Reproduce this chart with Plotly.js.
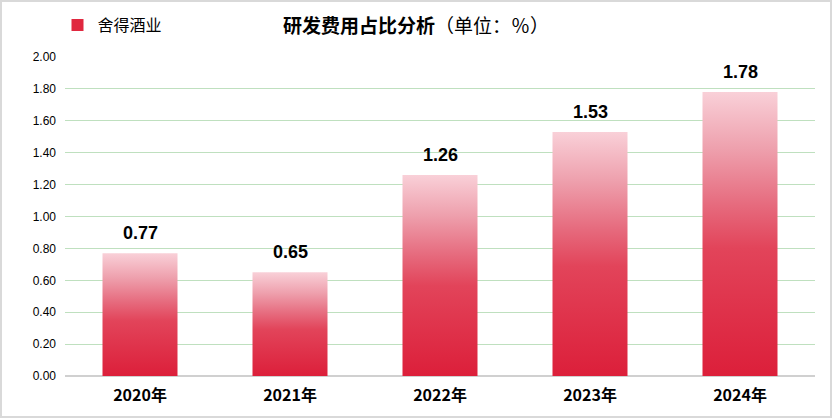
<!DOCTYPE html>
<html>
<head>
<meta charset="utf-8">
<script src="https://cdn.plot.ly/plotly-3.0.1.min.js"></script>
<style>
  html, body { margin: 0; padding: 0; background: #fff; }
  #wrap { position: relative; width: 832px; height: 418px; }
  #chart { position: absolute; left: 0; top: 0; width: 832px; height: 418px; }
  #frame { position: absolute; left: 0; top: 0; width: 832px; height: 418px; box-sizing: border-box; border: 2px solid #d9d9d9; pointer-events: none; }
</style>
</head>
<body>
<div id="wrap"><div id="chart"></div><div id="frame"></div></div>
<script>
const years = ['2020年', '2021年', '2022年', '2023年', '2024年'];
const seriesName = '舍得酒业';
const values = [0.77, 0.65, 1.26, 1.53, 1.78];
const yTicks = [0, 0.2, 0.4, 0.6, 0.8, 1.0, 1.2, 1.4, 1.6, 1.8, 2.0];

const BAR_W = 0.5;
const idx = years.map((_, i) => i);
const gradScale = [[0, '#dc1f3a'], [0.45, '#e2445a'], [0.6, '#e66a7d'], [0.8, '#eea0ad'], [1, '#f9d0d8']];

const traces = [
  {
    type: 'bar',
    name: seriesName,
    x: [null],
    y: [null],
    marker: { color: '#e0283f' },
    showlegend: true,
    hoverinfo: 'skip'
  },
  {
    type: 'bar',
    name: seriesName,
    x: idx,
    y: values,
    width: BAR_W,
    marker: { color: 'rgba(0,0,0,0)', line: { width: 0 } },
    showlegend: false,
    hoverinfo: 'x+y'
  }
];

idx.forEach((i) => {
  const v = values[i];
  traces.push({
    type: 'scatter',
    mode: 'lines',
    x: [i - BAR_W / 2, i + BAR_W / 2, i + BAR_W / 2, i - BAR_W / 2, i - BAR_W / 2],
    y: [0, 0, v, v, 0],
    fill: 'toself',
    fillgradient: { type: 'vertical', colorscale: gradScale },
    line: { width: 0 },
    showlegend: false,
    hoverinfo: 'skip'
  });
});

const annotations = idx.map((i) => ({
  x: i,
  y: values[i],
  xref: 'x',
  yref: 'y',
  text: values[i].toFixed(2),
  showarrow: false,
  yanchor: 'bottom',
  yshift: 8,
  font: { size: 18, color: '#000', family: 'Liberation Sans, sans-serif', weight: 'bold' }
}));

const layout = {
  width: 832,
  height: 418,
  margin: { l: 65, r: 17, t: 57, b: 42, autoexpand: false },
  paper_bgcolor: '#fff',
  plot_bgcolor: '#fff',
  font: { family: 'Noto Sans CJK SC, sans-serif', color: '#000' },
  title: {
    text: '<b>研发费用占比分析</b>（单位：％）',
    font: { size: 19, color: '#000' },
    x: 0.5, xanchor: 'center',
    y: 0.937, yanchor: 'middle', yref: 'container'
  },
  showlegend: true,
  legend: {
    x: -0.01, xanchor: 'left',
    y: 1.10, yanchor: 'middle',
    orientation: 'h',
    itemwidth: 30,
    font: { size: 16, color: '#000' },
    bgcolor: 'rgba(0,0,0,0)'
  },
  annotations: annotations,
  xaxis: {
    type: 'linear',
    range: [-0.5, 4.5],
    tickvals: idx,
    ticktext: years,
    tickfont: { size: 16, color: '#000', weight: 'bold' },
    ticklabelstandoff: 8,
    showgrid: false,
    zeroline: false,
    showline: false,
    ticks: '',
    fixedrange: true
  },
  yaxis: {
    range: [0, 2.0],
    tickvals: yTicks,
    tickformat: '.2f',
    tickfont: { size: 12, color: '#000', family: 'Liberation Sans, sans-serif' },
    ticklabelstandoff: 8,
    showgrid: true,
    gridcolor: '#bfe0bf',
    gridwidth: 1,
    zeroline: true,
    zerolinecolor: '#d0d0d0',
    zerolinewidth: 2,
    showline: false,
    ticks: '',
    fixedrange: true
  },
  barmode: 'overlay'
};

Plotly.newPlot('chart', traces, layout, { displayModeBar: false, staticPlot: true });
</script>
</body>
</html>
